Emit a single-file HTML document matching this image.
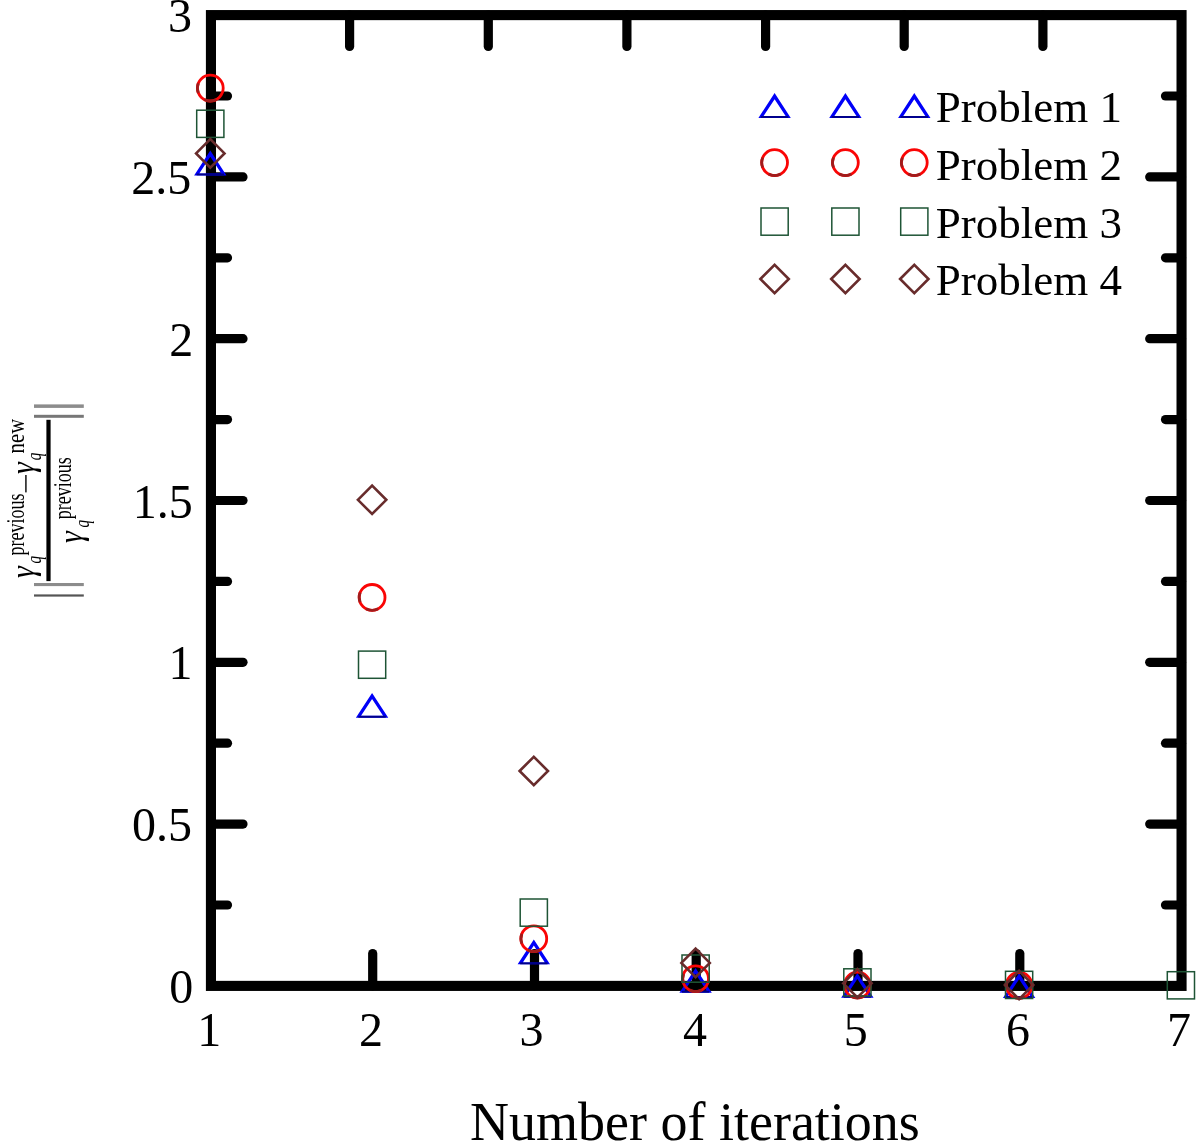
<!DOCTYPE html>
<html lang="en"><head><meta charset="utf-8"><title>Number of iterations</title>
<style>html,body{margin:0;padding:0;background:#fff}svg{display:block}text{font-family:"Liberation Serif","Times New Roman",serif;fill:#000}</style>
</head><body>
<svg width="1200" height="1146" viewBox="0 0 1200 1146">
<rect x="0" y="0" width="1200" height="1146" fill="#fff"/>
<g stroke="#000" stroke-width="9.2" stroke-linecap="round" fill="none">
<line x1="210.95" y1="905.0" x2="227.5" y2="905.0"/>
<line x1="1181.55" y1="905.0" x2="1165.5" y2="905.0"/>
<line x1="210.95" y1="824.1" x2="243" y2="824.1"/>
<line x1="1181.55" y1="824.1" x2="1149.7" y2="824.1"/>
<line x1="210.95" y1="743.2" x2="227.5" y2="743.2"/>
<line x1="1181.55" y1="743.2" x2="1165.5" y2="743.2"/>
<line x1="210.95" y1="662.3" x2="243" y2="662.3"/>
<line x1="1181.55" y1="662.3" x2="1149.7" y2="662.3"/>
<line x1="210.95" y1="581.4" x2="227.5" y2="581.4"/>
<line x1="1181.55" y1="581.4" x2="1165.5" y2="581.4"/>
<line x1="210.95" y1="500.5" x2="243" y2="500.5"/>
<line x1="1181.55" y1="500.5" x2="1149.7" y2="500.5"/>
<line x1="210.95" y1="419.6" x2="227.5" y2="419.6"/>
<line x1="1181.55" y1="419.6" x2="1165.5" y2="419.6"/>
<line x1="210.95" y1="338.7" x2="243" y2="338.7"/>
<line x1="1181.55" y1="338.7" x2="1149.7" y2="338.7"/>
<line x1="210.95" y1="257.8" x2="227.5" y2="257.8"/>
<line x1="1181.55" y1="257.8" x2="1165.5" y2="257.8"/>
<line x1="210.95" y1="176.9" x2="243" y2="176.9"/>
<line x1="1181.55" y1="176.9" x2="1149.7" y2="176.9"/>
<line x1="210.95" y1="96.0" x2="227.5" y2="96.0"/>
<line x1="1181.55" y1="96.0" x2="1165.5" y2="96.0"/>
<line x1="349.6" y1="15.1" x2="349.6" y2="46.5"/>
<line x1="488.3" y1="15.1" x2="488.3" y2="46.5"/>
<line x1="626.9" y1="15.1" x2="626.9" y2="46.5"/>
<line x1="765.6" y1="15.1" x2="765.6" y2="46.5"/>
<line x1="904.2" y1="15.1" x2="904.2" y2="46.5"/>
<line x1="1042.9" y1="15.1" x2="1042.9" y2="46.5"/>
<line x1="372.7" y1="985.85" x2="372.7" y2="953.5"/>
<line x1="534.5" y1="985.85" x2="534.5" y2="953.5"/>
<line x1="696.2" y1="985.85" x2="696.2" y2="953.5"/>
<line x1="858.0" y1="985.85" x2="858.0" y2="953.5"/>
<line x1="1019.8" y1="985.85" x2="1019.8" y2="953.5"/>
</g>
<rect x="210.95" y="15.1" width="970.6" height="970.8" fill="none" stroke="#000" stroke-width="10.1"/>
<g font-size="48px">
<text x="193.3" y="1003.0" text-anchor="end">0</text>
<text x="192.0" y="841.2" text-anchor="end">0.5</text>
<text x="192.5" y="679.4" text-anchor="end">1</text>
<text x="192.7" y="517.6" text-anchor="end">1.5</text>
<text x="193.3" y="355.8" text-anchor="end">2</text>
<text x="191.3" y="194.0" text-anchor="end">2.5</text>
<text x="192.1" y="32.2" text-anchor="end">3</text>
<text x="209.3" y="1046.2" text-anchor="middle">1</text>
<text x="371.1" y="1046.2" text-anchor="middle">2</text>
<text x="531.6" y="1046.2" text-anchor="middle">3</text>
<text x="694.9" y="1046.2" text-anchor="middle">4</text>
<text x="855.7" y="1046.2" text-anchor="middle">5</text>
<text x="1018.1" y="1046.2" text-anchor="middle">6</text>
<text x="1179.0" y="1046.2" text-anchor="middle">7</text>
</g>
<text x="470" y="1139.5" font-size="54px">Number of iterations</text>
<g>
<path fill-rule="evenodd" fill="#0000f8" d="M194.10 175.40L210.30 150.60L226.50 175.40ZM199.28 173.50L210.30 156.63L221.32 173.50Z"/><rect x="196.60" y="173.50" width="27.40" height="1.9" fill="#000088"/>
<path fill-rule="evenodd" fill="#0000f8" d="M355.87 717.70L372.07 692.90L388.27 717.70ZM361.05 715.80L372.07 698.93L383.08 715.80Z"/><rect x="358.37" y="715.80" width="27.40" height="1.9" fill="#000088"/>
<path fill-rule="evenodd" fill="#0000f8" d="M517.63 964.30L533.83 939.50L550.03 964.30ZM522.82 962.40L533.83 945.53L544.85 962.40Z"/><rect x="520.13" y="962.40" width="27.40" height="1.9" fill="#000088"/>
<path fill-rule="evenodd" fill="#0000f8" d="M679.40 992.70L695.60 967.90L711.80 992.70ZM684.58 990.80L695.60 973.93L706.62 990.80Z"/><rect x="681.90" y="990.80" width="27.40" height="1.9" fill="#000088"/>
<path fill-rule="evenodd" fill="#0000f8" d="M841.17 997.70L857.37 972.90L873.57 997.70ZM846.35 995.80L857.37 978.93L868.38 995.80Z"/><rect x="843.67" y="995.80" width="27.40" height="1.9" fill="#000088"/>
<path fill-rule="evenodd" fill="#0000f8" d="M1002.93 997.90L1019.13 973.10L1035.33 997.90ZM1008.12 996.00L1019.13 979.13L1030.15 996.00Z"/><rect x="1005.43" y="996.00" width="27.40" height="1.9" fill="#000088"/>
<circle cx="210.3" cy="88.1" r="12.9" fill="none" stroke="#fa0505" stroke-width="2.8"/><path d="M216.36 99.49A12.9 12.9 0 0 1 204.24 99.49M198.34 92.93A12.9 12.9 0 0 1 198.34 83.27" fill="none" stroke="#a01c1c" stroke-width="2.8"/>
<circle cx="372.1" cy="597.4" r="12.9" fill="none" stroke="#fa0505" stroke-width="2.8"/><path d="M378.12 608.79A12.9 12.9 0 0 1 366.01 608.79M360.11 602.23A12.9 12.9 0 0 1 360.11 592.57" fill="none" stroke="#a01c1c" stroke-width="2.8"/>
<circle cx="533.8" cy="938.7" r="12.9" fill="none" stroke="#fa0505" stroke-width="2.8"/><path d="M539.89 950.09A12.9 12.9 0 0 1 527.78 950.09M521.87 943.53A12.9 12.9 0 0 1 521.87 933.87" fill="none" stroke="#a01c1c" stroke-width="2.8"/>
<circle cx="695.6" cy="978.7" r="12.9" fill="none" stroke="#fa0505" stroke-width="2.8"/><path d="M701.66 990.09A12.9 12.9 0 0 1 689.54 990.09M683.64 983.53A12.9 12.9 0 0 1 683.64 973.87" fill="none" stroke="#a01c1c" stroke-width="2.8"/>
<circle cx="857.4" cy="985.0" r="12.9" fill="none" stroke="#fa0505" stroke-width="2.8"/><path d="M863.42 996.39A12.9 12.9 0 0 1 851.31 996.39M845.41 989.83A12.9 12.9 0 0 1 845.41 980.17" fill="none" stroke="#a01c1c" stroke-width="2.8"/>
<circle cx="1019.1" cy="985.3" r="12.9" fill="none" stroke="#fa0505" stroke-width="2.8"/><path d="M1025.19 996.69A12.9 12.9 0 0 1 1013.08 996.69M1007.17 990.13A12.9 12.9 0 0 1 1007.17 980.47" fill="none" stroke="#a01c1c" stroke-width="2.8"/>
<rect x="196.7" y="110.2" width="27.2" height="27.2" fill="none" stroke="#1e5435" stroke-width="1.5"/>
<rect x="358.5" y="651.1" width="27.2" height="27.2" fill="none" stroke="#1e5435" stroke-width="1.5"/>
<rect x="520.2" y="899.0" width="27.2" height="27.2" fill="none" stroke="#1e5435" stroke-width="1.5"/>
<rect x="682.0" y="955.0" width="27.2" height="27.2" fill="none" stroke="#1e5435" stroke-width="1.5"/>
<rect x="843.8" y="968.8" width="27.2" height="27.2" fill="none" stroke="#1e5435" stroke-width="1.5"/>
<rect x="1005.5" y="971.3" width="27.2" height="27.2" fill="none" stroke="#1e5435" stroke-width="1.5"/>
<rect x="1167.3" y="971.7" width="27.2" height="27.2" fill="none" stroke="#1e5435" stroke-width="1.5"/>
<path d="M196.1 153.4L210.3 139.2L224.5 153.4L210.3 167.6Z" fill="none" stroke="#682c2c" stroke-width="2.6"/>
<path d="M357.9 499.8L372.1 485.6L386.3 499.8L372.1 514.0Z" fill="none" stroke="#682c2c" stroke-width="2.6"/>
<path d="M519.6 771.0L533.8 756.8L548.0 771.0L533.8 785.2Z" fill="none" stroke="#682c2c" stroke-width="2.6"/>
<path d="M681.4 962.9L695.6 948.7L709.8 962.9L695.6 977.1Z" fill="none" stroke="#682c2c" stroke-width="2.6"/>
<path d="M843.2 983.3L857.4 969.1L871.6 983.3L857.4 997.5Z" fill="none" stroke="#682c2c" stroke-width="2.6"/>
<path d="M1004.9 985.0L1019.1 970.8L1033.3 985.0L1019.1 999.2Z" fill="none" stroke="#682c2c" stroke-width="2.6"/>
</g>
<g>
<path fill-rule="evenodd" fill="#0000f8" d="M758.40 117.90L774.60 93.10L790.80 117.90ZM763.58 116.00L774.60 99.13L785.62 116.00Z"/><rect x="760.90" y="116.00" width="27.40" height="1.9" fill="#000088"/>
<circle cx="774.6" cy="162.6" r="12.9" fill="none" stroke="#fa0505" stroke-width="2.8"/><path d="M780.66 173.99A12.9 12.9 0 0 1 768.54 173.99M762.64 167.43A12.9 12.9 0 0 1 762.64 157.77" fill="none" stroke="#a01c1c" stroke-width="2.8"/>
<rect x="761.0" y="208.0" width="27.2" height="27.2" fill="none" stroke="#1e5435" stroke-width="1.5"/>
<path d="M760.4 279.0L774.6 264.8L788.8 279.0L774.6 293.2Z" fill="none" stroke="#682c2c" stroke-width="2.6"/>
<path fill-rule="evenodd" fill="#0000f8" d="M829.20 117.90L845.40 93.10L861.60 117.90ZM834.38 116.00L845.40 99.13L856.42 116.00Z"/><rect x="831.70" y="116.00" width="27.40" height="1.9" fill="#000088"/>
<circle cx="845.4" cy="162.6" r="12.9" fill="none" stroke="#fa0505" stroke-width="2.8"/><path d="M851.46 173.99A12.9 12.9 0 0 1 839.34 173.99M833.44 167.43A12.9 12.9 0 0 1 833.44 157.77" fill="none" stroke="#a01c1c" stroke-width="2.8"/>
<rect x="831.8" y="208.0" width="27.2" height="27.2" fill="none" stroke="#1e5435" stroke-width="1.5"/>
<path d="M831.2 279.0L845.4 264.8L859.6 279.0L845.4 293.2Z" fill="none" stroke="#682c2c" stroke-width="2.6"/>
<path fill-rule="evenodd" fill="#0000f8" d="M898.10 117.90L914.30 93.10L930.50 117.90ZM903.28 116.00L914.30 99.13L925.32 116.00Z"/><rect x="900.60" y="116.00" width="27.40" height="1.9" fill="#000088"/>
<circle cx="914.3" cy="162.6" r="12.9" fill="none" stroke="#fa0505" stroke-width="2.8"/><path d="M920.36 173.99A12.9 12.9 0 0 1 908.24 173.99M902.34 167.43A12.9 12.9 0 0 1 902.34 157.77" fill="none" stroke="#a01c1c" stroke-width="2.8"/>
<rect x="900.7" y="208.0" width="27.2" height="27.2" fill="none" stroke="#1e5435" stroke-width="1.5"/>
<path d="M900.1 279.0L914.3 264.8L928.5 279.0L914.3 293.2Z" fill="none" stroke="#682c2c" stroke-width="2.6"/>
</g>
<g font-size="45px">
<text x="935.7" y="121.8">Problem 1</text>
<text x="935.7" y="179.9">Problem 2</text>
<text x="935.7" y="237.5">Problem 3</text>
<text x="935.7" y="295.1">Problem 4</text>
</g>
<g id="ylabel">
<rect x="34" y="404.4" width="49.8" height="3.5" fill="#8c8c8c"/>
<rect x="34" y="414.8" width="49.8" height="3" fill="#777"/>
<rect x="34" y="583" width="49.8" height="3.1" fill="#8c8c8c"/>
<rect x="34" y="594.4" width="49.8" height="2.2" fill="#555"/>
<rect x="46.4" y="419.8" width="4.2" height="161.3" fill="#000"/>
<text transform="translate(34.15 578.1) rotate(-90) scale(0.876 1)" font-size="34.2px" font-style="italic">γ</text>
<text transform="translate(41.4 563.6) rotate(-90) scale(0.7 1)" font-size="21.5px" font-style="italic">q</text>
<text transform="translate(23.6 555.4) rotate(-90) scale(0.735 1)" font-size="24.5px" >previous</text>
<text transform="translate(34.15 474.1) rotate(-90) scale(0.876 1)" font-size="34.2px" font-style="italic">γ</text>
<text transform="translate(41.4 460.2) rotate(-90) scale(0.7 1)" font-size="21.5px" font-style="italic">q</text>
<text transform="translate(24 453.4) rotate(-90) scale(0.845 1)" font-size="24.5px" >new</text>
<rect x="25.1" y="475" width="1.6" height="17.4" fill="#222"/>
<text transform="translate(82.0 543.0) rotate(-90) scale(0.876 1)" font-size="34.2px" font-style="italic">γ</text>
<text transform="translate(89.2 527.6) rotate(-90) scale(0.7 1)" font-size="21.5px" font-style="italic">q</text>
<text transform="translate(71.2 519.2) rotate(-90) scale(0.735 1)" font-size="24.5px" >previous</text>
</g>
</svg>
</body></html>
